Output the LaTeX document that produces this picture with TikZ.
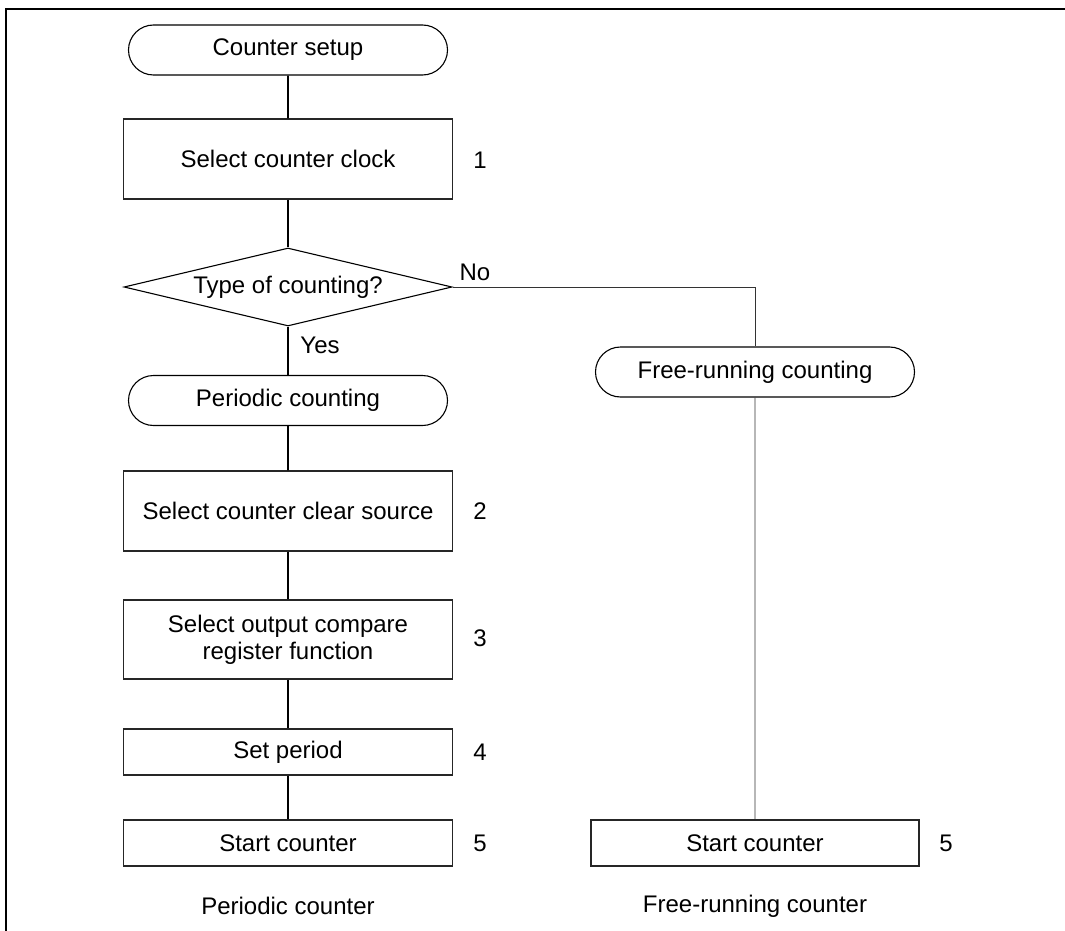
\documentclass[tikz,border=0pt]{standalone}
\usepackage{fontspec}
\setmainfont{Liberation Sans}
\usetikzlibrary{shapes.geometric,shapes.misc}
\begin{document}
\begin{tikzpicture}[x=1pt,y=-1pt,
  every node/.style={font=\fontsize{24}{27}\selectfont},
  stepbox/.style={draw=black!85,line width=1.1pt,rectangle,minimum width=329pt,inner sep=0pt,align=center},
  term/.style={draw=black,line width=1.1pt,rounded rectangle,minimum width=319pt,minimum height=50pt,inner sep=0pt},
  decide/.style={draw=black,line width=1.1pt,diamond,aspect=4.2,minimum width=328pt,minimum height=78pt,inner sep=0pt},
  conn/.style={draw=black,line width=1.6pt},
  thinconn/.style={draw=black!80,line width=0.9pt},
  lbl/.style={inner sep=0pt}]
\useasboundingbox (0,0) rectangle (1065,931);
\draw[line width=2pt] (6,931) -- (6,9) -- (1065,9);

\node[term] (setup) at (288,50) {Counter setup};
\node[stepbox,minimum height=80pt] (b1) at (288,159) {Select counter clock};
\node[decide] (dec) at (288,287) {Type of counting?};
\node[term] (per) at (288,400.5) {Periodic counting};
\node[stepbox,minimum height=80pt] (b2) at (288,511) {Select counter clear source};
\node[stepbox,minimum height=79pt] (b3) at (288,639.5) {Select output compare\\register function};
\node[stepbox,minimum height=46pt] (b4) at (288,752) {Set period};
\node[stepbox,minimum height=46pt] (b5) at (288,843) {Start counter};

\node[term] (free) at (755,372) {Free-running counting};
\node[stepbox,minimum height=46pt,minimum width=328pt] (fb5) at (755,843) {Start counter};

\node[lbl] (n1) at (480,160) {1};
\node[lbl] (n2) at (480,511) {2};
\node[lbl] (n3) at (480,638) {3};
\node[lbl] (n4) at (480,752) {4};
\node[lbl] (n5) at (480,843) {5};
\node[lbl] (n5f) at (946,843) {5};

\node[lbl] (no) at (475,272) {No};
\node[lbl] (yes) at (320,345) {Yes};

\node[lbl] (capA) at (288,906) {Periodic counter};
\node[lbl] (capB) at (755,906) {Free-running counter};

\draw[conn] (setup) -- (b1);
\draw[conn] (b1) -- (dec);
\draw[conn] (dec.south) -- (per.north);
\draw[conn] (per) -- (b2);
\draw[conn] (b2) -- (b3);
\draw[conn] (b3) -- (b4);
\draw[conn] (b4) -- (b5);
\draw[thinconn] (dec.east) -| (free.north);
\draw[thinconn] (free) -- (fb5);
\end{tikzpicture}
\end{document}
